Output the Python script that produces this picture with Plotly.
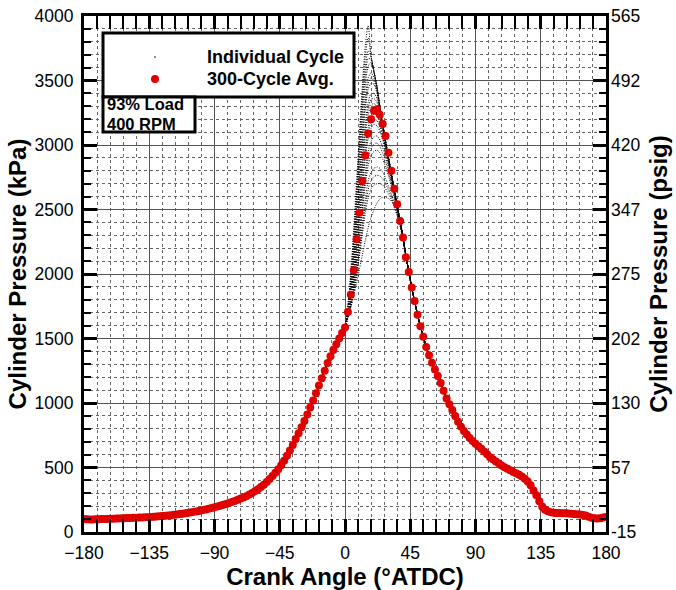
import plotly.graph_objects as go

FONT = "Liberation Sans"

# ---------------- data ----------------
crank_angle = list(range(-180, 181, 2))  # deg ATDC

avg_kpa = [
    100, 98, 97, 97, 98, 99, 100, 101, 101, 102,          # -180 .. -162
    103, 104, 105, 106, 107, 108, 109, 110, 111, 112,     # -160 .. -142
    113, 114, 115, 116, 118, 120, 122, 124, 126, 128,     # -140 .. -122
    130, 133, 136, 139, 142, 145, 149, 153, 157, 161,     # -120 .. -102
    165, 170, 175, 180, 186, 192, 198, 204, 211, 218,     # -100 .. -82
    225, 233, 241, 250, 259, 268, 278, 290, 303, 317,     # -80 .. -62
    332, 348, 366, 388, 411, 435, 460, 487, 518, 553,     # -60 .. -42
    592, 632, 675, 720, 765, 812, 860, 910, 965, 1020,    # -40 .. -22
    1075, 1135, 1192, 1250, 1310, 1362, 1410, 1455, 1500, 1542,  # -20 .. -2
    1585, 1705, 1840, 2030, 2270, 2475, 2720, 2920, 3090, 3200,  # 0 .. 18
    3265, 3278, 3235, 3163, 3070, 2940, 2800, 2660, 2540, 2410,  # 20 .. 38
    2282, 2130, 2015, 1895, 1790, 1685, 1595, 1514, 1435, 1370,  # 40 .. 58
    1312, 1260, 1210, 1155, 1095, 1035, 990, 945, 900, 855,      # 60 .. 78
    815, 782, 755, 728, 705, 685, 665, 645, 625, 602,            # 80 .. 98
    580, 563, 547, 532, 516, 502, 490, 478, 466, 455,            # 100 .. 118
    443, 430, 413, 392, 362, 322, 285, 238, 197, 172,            # 120 .. 138
    160, 153, 150, 148, 147, 146, 145, 143, 142, 140,            # 140 .. 158
    138, 135, 132, 127, 119, 111, 106, 104, 107, 113,            # 160 .. 178
    117,                                                         # 180
]

# individual cycles where they leave the common compression/expansion path
cycle_angle = list(range(0, 45, 2))
cycle_01 = [1600, 1770, 2020, 2350, 2720, 3100, 3460, 3770, 3925, 3690, 3570, 3455, 3305, 3160, 3030, 2905, 2780, 2655, 2530, 2410, 2285, 2140, 2020]
cycle_02 = [1598, 1755, 1990, 2300, 2670, 3045, 3400, 3690, 3830, 3685, 3570, 3455, 3305, 3160, 3030, 2905, 2780, 2655, 2530, 2410, 2285, 2140, 2020]
cycle_03 = [1595, 1740, 1960, 2260, 2620, 2990, 3330, 3600, 3730, 3680, 3570, 3455, 3305, 3160, 3030, 2905, 2780, 2655, 2530, 2410, 2285, 2140, 2020]
cycle_04 = [1595, 1732, 1940, 2225, 2570, 2930, 3265, 3530, 3670, 3660, 3565, 3452, 3302, 3160, 3030, 2905, 2780, 2655, 2530, 2410, 2285, 2140, 2020]
cycle_05 = [1595, 1725, 1920, 2190, 2520, 2870, 3200, 3460, 3610, 3640, 3560, 3450, 3300, 3160, 3030, 2905, 2780, 2655, 2530, 2410, 2285, 2140, 2020]
cycle_06 = [1590, 1715, 1890, 2140, 2450, 2790, 3110, 3370, 3520, 3560, 3520, 3430, 3290, 3155, 3025, 2900, 2780, 2655, 2530, 2410, 2285, 2140, 2020]
cycle_07 = [1590, 1710, 1875, 2115, 2415, 2745, 3060, 3320, 3475, 3520, 3495, 3415, 3285, 3152, 3022, 2900, 2778, 2655, 2530, 2410, 2285, 2140, 2020]
cycle_08 = [1590, 1705, 1860, 2090, 2380, 2700, 3010, 3270, 3430, 3480, 3470, 3400, 3280, 3150, 3020, 2900, 2775, 2655, 2530, 2410, 2285, 2140, 2020]
cycle_09 = [1590, 1700, 1840, 2050, 2320, 2620, 2920, 3170, 3330, 3400, 3400, 3360, 3260, 3135, 3010, 2890, 2770, 2650, 2530, 2410, 2285, 2140, 2020]
cycle_10 = [1589, 1695, 1830, 2030, 2290, 2580, 2870, 3120, 3280, 3355, 3360, 3330, 3240, 3122, 3002, 2885, 2768, 2648, 2528, 2408, 2285, 2140, 2020]
cycle_11 = [1588, 1690, 1820, 2010, 2260, 2540, 2820, 3070, 3230, 3310, 3320, 3300, 3220, 3110, 2995, 2880, 2765, 2645, 2525, 2405, 2285, 2140, 2020]
cycle_12 = [1588, 1685, 1805, 1980, 2210, 2470, 2740, 2980, 3140, 3220, 3240, 3230, 3170, 3080, 2975, 2865, 2755, 2640, 2520, 2400, 2280, 2140, 2020]
cycle_13 = [1588, 1682, 1798, 1965, 2185, 2435, 2700, 2935, 3095, 3175, 3200, 3190, 3140, 3060, 2962, 2858, 2748, 2635, 2518, 2400, 2280, 2140, 2020]
cycle_14 = [1587, 1680, 1790, 1950, 2160, 2400, 2660, 2890, 3050, 3130, 3160, 3150, 3110, 3040, 2950, 2850, 2740, 2630, 2515, 2400, 2280, 2140, 2020]
cycle_15 = [1587, 1675, 1775, 1920, 2110, 2330, 2570, 2790, 2950, 3030, 3065, 3070, 3040, 2980, 2910, 2820, 2720, 2615, 2505, 2395, 2280, 2140, 2020]
cycle_16 = [1587, 1672, 1770, 1908, 2088, 2298, 2525, 2740, 2895, 2975, 3008, 3015, 2990, 2935, 2870, 2790, 2700, 2602, 2498, 2392, 2278, 2140, 2020]
cycle_17 = [1586, 1670, 1765, 1895, 2065, 2265, 2480, 2690, 2840, 2920, 2950, 2960, 2940, 2890, 2830, 2760, 2680, 2590, 2490, 2390, 2275, 2140, 2020]
cycle_18 = [1586, 1668, 1755, 1870, 2020, 2200, 2390, 2580, 2720, 2790, 2820, 2830, 2820, 2790, 2740, 2680, 2620, 2550, 2470, 2380, 2270, 2140, 2020]
cycle_19 = [1586, 1666, 1751, 1860, 2000, 2170, 2350, 2525, 2655, 2725, 2755, 2765, 2760, 2740, 2700, 2650, 2598, 2532, 2460, 2375, 2270, 2140, 2020]
cycle_20 = [1585, 1665, 1748, 1850, 1980, 2140, 2310, 2470, 2590, 2660, 2690, 2700, 2700, 2690, 2660, 2620, 2575, 2515, 2450, 2370, 2270, 2140, 2020]
cycle_21 = [1585, 1660, 1740, 1830, 1930, 2040, 2150, 2260, 2360, 2440, 2500, 2550, 2580, 2595, 2594, 2585, 2565, 2540, 2500, 2420, 2290, 2140, 2020]
cycles = [cycle_01, cycle_02, cycle_03, cycle_04, cycle_05, cycle_06, cycle_07,
          cycle_08, cycle_09, cycle_10, cycle_11, cycle_12, cycle_13, cycle_14,
          cycle_15, cycle_16, cycle_17, cycle_18, cycle_19, cycle_20, cycle_21]

kpa_ticks = [0, 500, 1000, 1500, 2000, 2500, 3000, 3500, 4000]
psig_labels = ["-15", "57", "130", "202", "275", "347", "420", "492", "565"]
angle_ticks = [-180, -135, -90, -45, 0, 45, 90, 135, 180]

legend_labels = ["Individual Cycle", "300-Cycle Avg."]
info_lines = ["93% Load", "400 RPM"]

# ---------------- figure ----------------
fig = go.Figure()

pre_x = [a for a in crank_angle if a < cycle_angle[0]]
pre_y = [p for a, p in zip(crank_angle, avg_kpa) if a < cycle_angle[0]]
post_x = [a for a in crank_angle if a > cycle_angle[-1]]
post_y = [p for a, p in zip(crank_angle, avg_kpa) if a > cycle_angle[-1]]

for cyc in cycles:
    fig.add_trace(go.Scatter(
        x=pre_x + cycle_angle + post_x, y=pre_y + cyc + post_y,
        mode="lines", name=legend_labels[0], legendgroup="cyc",
        line=dict(color="black", width=1, dash="1px,1.5px", shape="spline", smoothing=0.8),
        showlegend=False, hoverinfo="skip"))

fig.add_trace(go.Scatter(x=crank_angle, y=avg_kpa, mode="markers", name=legend_labels[1],
                         marker=dict(color="#e00000", size=8, line=dict(width=0)),
                         showlegend=False))

# empty trace that anchors the right-hand psig axis
fig.add_trace(go.Scatter(x=[None], y=[None], yaxis="y2", showlegend=False, hoverinfo="skip"))

axis_common = dict(
    ticks="inside", tickcolor="black", tickwidth=3, ticklen=13,
    showline=True, linecolor="black", linewidth=3, mirror="allticks",
    showgrid=True, gridcolor="#555555", gridwidth=1, zeroline=False, automargin=False,
    tickfont=dict(family=FONT, size=17.5, color="black"),
)

fig.update_layout(
    width=676, height=590,
    margin=dict(l=84, r=70, t=16, b=58),
    plot_bgcolor="white", paper_bgcolor="white",
    font=dict(family=FONT, color="black"),
    showlegend=False,
    xaxis=dict(
        range=[-180, 180], tickvals=angle_ticks, ticklabelstandoff=3,
        minor=dict(dtick=9, tick0=-180, ticks="inside", ticklen=7, tickwidth=2, tickcolor="black",
                   showgrid=True, gridcolor="#666666", griddash="dot", gridwidth=1),
        title=dict(text="Crank Angle (°ATDC)", font=dict(family=FONT, size=24, weight="bold"), standoff=9),
        **axis_common),
    yaxis=dict(
        range=[0, 4000], tickvals=kpa_ticks, ticklabelstandoff=4,
        minor=dict(dtick=100, tick0=0, ticks="inside", ticklen=7, tickwidth=2, tickcolor="black",
                   showgrid=True, gridcolor="#666666", griddash="dot", gridwidth=1),
        title=dict(text="Cylinder Pressure (kPa)", font=dict(family=FONT, size=24, weight="bold"), standoff=2),
        **axis_common),
    yaxis2=dict(
        overlaying="y", side="right", range=[0, 4000], tickvals=kpa_ticks, ticktext=psig_labels,
        ticks="", showgrid=False, showline=False, zeroline=False, ticklabelstandoff=4, automargin=False,
        tickfont=dict(family=FONT, size=17.5, color="black"),
        title=dict(text="Cylinder Pressure (psig)", font=dict(family=FONT, size=24, weight="bold"), standoff=10),
    ),
)

# ---- legend box (drawn by hand to match the reference's compact layout) ----
def px_x(p):
    return (p - 84) / 522.0

def px_y(p):
    return (532 - p) / 516.0

fig.add_shape(type="rect", xref="paper", yref="paper",
              x0=px_x(103), x1=px_x(354), y0=px_y(97), y1=px_y(33),
              line=dict(color="black", width=3), fillcolor="white", layer="above")
fig.add_shape(type="circle", xref="paper", yref="paper", xsizemode="pixel", ysizemode="pixel",
              xanchor=px_x(155), yanchor=px_y(57), x0=-0.8, x1=0.8, y0=-0.8, y1=0.8,
              line=dict(width=0), fillcolor="black", layer="above")
fig.add_shape(type="circle", xref="paper", yref="paper", xsizemode="pixel", ysizemode="pixel",
              xanchor=px_x(155), yanchor=px_y(79), x0=-4, x1=4, y0=-4, y1=4,
              line=dict(width=0), fillcolor="#e00000", layer="above")
for label, yc in zip(legend_labels, [57, 79]):
    fig.add_annotation(xref="paper", yref="paper", x=px_x(205), y=px_y(yc),
                       xanchor="left", yanchor="middle", text=label, showarrow=False,
                       font=dict(family=FONT, size=18, color="black", weight="bold"))

# ---- operating condition box ----
fig.add_shape(type="rect", xref="paper", yref="paper",
              x0=px_x(103), x1=px_x(195), y0=px_y(132), y1=px_y(97),
              line=dict(color="black", width=3), fillcolor="white", layer="above")
fig.add_annotation(xref="paper", yref="paper", x=px_x(106), y=px_y(114),
                   xanchor="left", yanchor="bottom", text=info_lines[0], showarrow=False, borderpad=0,
                   font=dict(family=FONT, size=16.5, color="black", weight="bold"))
fig.add_annotation(xref="paper", yref="paper", x=px_x(106), y=px_y(114),
                   xanchor="left", yanchor="top", text=info_lines[1], showarrow=False, borderpad=0,
                   font=dict(family=FONT, size=16.5, color="black", weight="bold"))

fig.write_html("out.html")
